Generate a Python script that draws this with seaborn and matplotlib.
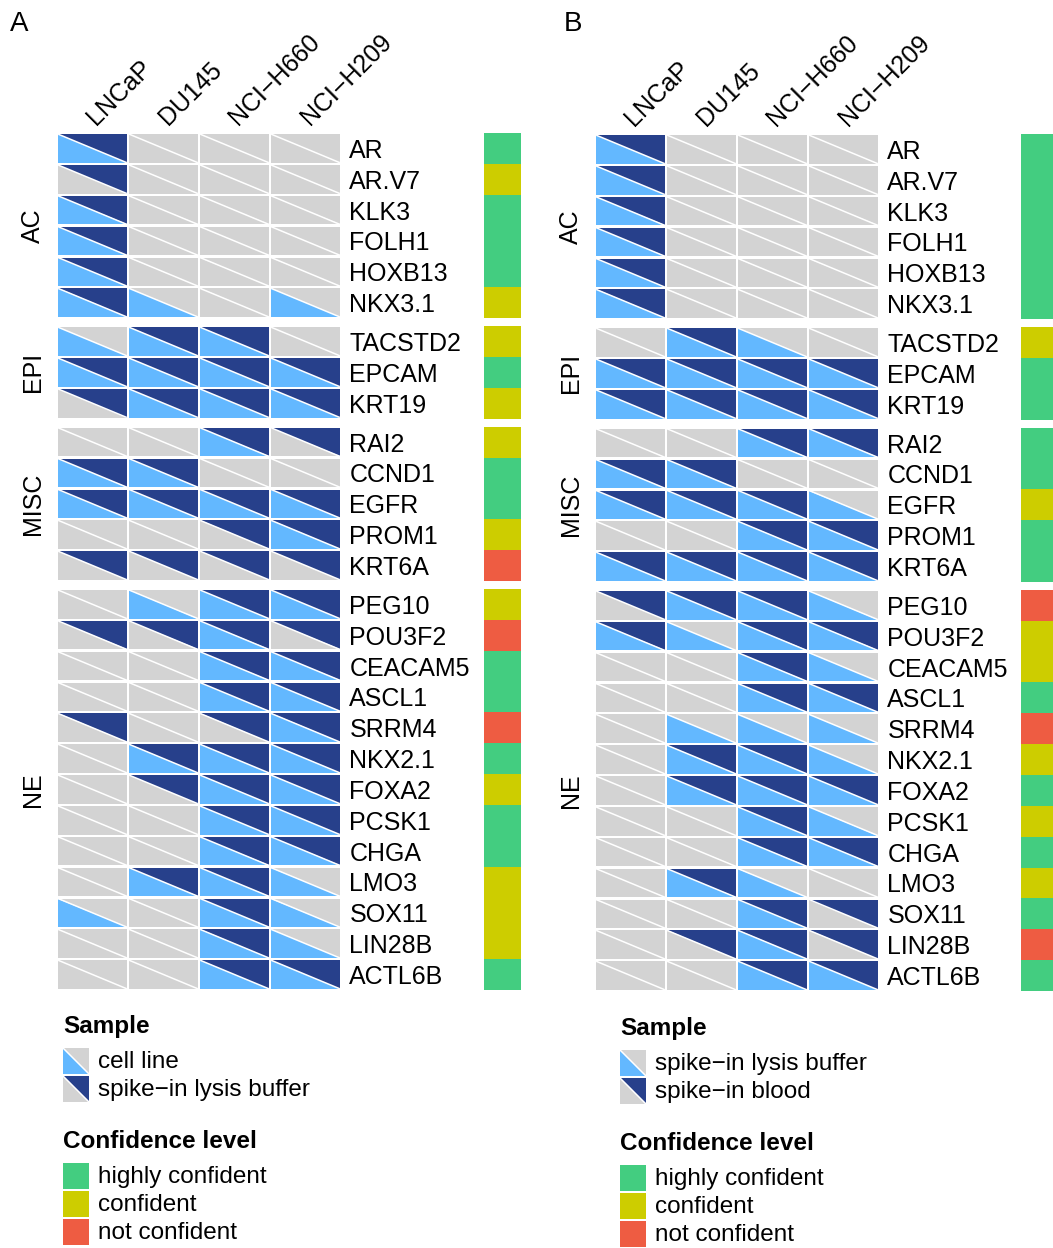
import numpy as np
import matplotlib
matplotlib.use("Agg")
import matplotlib.pyplot as plt
from matplotlib.colors import ListedColormap
from matplotlib.transforms import ScaledTranslation
import seaborn as sns

sns.set_theme(style="white")
plt.rcParams["font.family"] = ["Liberation Sans", "DejaVu Sans"]
for key in ["text.color", "axes.labelcolor", "xtick.color", "ytick.color"]:
    plt.rcParams[key] = "black"

# ---------------- data ----------------
cell_lines = ["LNCaP", "DU145", "NCI\u2212H660", "NCI\u2212H209"]
groups = ["AC", "EPI", "MISC", "NE"]
group_genes = [
    ["AR", "AR.V7", "KLK3", "FOLH1", "HOXB13", "NKX3.1"],
    ["TACSTD2", "EPCAM", "KRT19"],
    ["RAI2", "CCND1", "EGFR", "PROM1", "KRT6A"],
    ["PEG10", "POU3F2", "CEACAM5", "ASCL1", "SRRM4", "NKX2.1", "FOXA2",
     "PCSK1", "CHGA", "LMO3", "SOX11", "LIN28B", "ACTL6B"],
]

# panel A: detection in cell line (lower-left) and spike-in lysis buffer (upper-right)
a_cell_line = [
    [1, 0, 0, 0], [0, 0, 0, 0], [1, 0, 0, 0], [1, 0, 0, 0], [1, 0, 0, 0], [1, 1, 0, 1],
    [1, 1, 1, 0], [1, 1, 1, 1], [0, 1, 1, 1],
    [0, 0, 1, 0], [1, 1, 0, 0], [1, 1, 1, 1], [0, 0, 0, 1], [0, 0, 0, 0],
    [0, 1, 1, 1], [0, 0, 1, 0], [0, 0, 1, 1], [0, 0, 1, 1], [0, 0, 0, 1], [0, 1, 1, 1],
    [0, 0, 1, 1], [0, 0, 1, 1], [0, 0, 1, 1], [0, 1, 1, 1], [1, 0, 1, 1], [0, 0, 1, 1],
    [0, 0, 1, 1],
]
a_lysis = [
    [1, 0, 0, 0], [1, 0, 0, 0], [1, 0, 0, 0], [1, 0, 0, 0], [1, 0, 0, 0], [1, 0, 0, 0],
    [0, 1, 1, 0], [1, 1, 1, 1], [1, 1, 1, 1],
    [0, 0, 1, 1], [1, 1, 0, 0], [1, 1, 1, 1], [0, 0, 1, 1], [1, 1, 1, 1],
    [0, 0, 1, 1], [1, 1, 1, 1], [0, 0, 1, 1], [0, 0, 1, 1], [1, 0, 1, 1], [0, 1, 1, 1],
    [0, 1, 1, 1], [0, 0, 1, 1], [0, 0, 1, 1], [0, 1, 1, 0], [0, 0, 1, 0], [0, 0, 1, 0],
    [0, 0, 1, 1],
]
# panel B: spike-in lysis buffer (lower-left) and spike-in blood (upper-right)
b_lysis = [
    [1, 0, 0, 0], [1, 0, 0, 0], [1, 0, 0, 0], [1, 0, 0, 0], [1, 0, 0, 0], [1, 0, 0, 0],
    [0, 1, 1, 0], [1, 1, 1, 1], [1, 1, 1, 1],
    [0, 0, 1, 1], [1, 1, 0, 0], [1, 1, 1, 1], [0, 0, 1, 1], [1, 1, 1, 1],
    [0, 1, 1, 1], [1, 1, 1, 1], [0, 0, 1, 1], [0, 0, 1, 1], [0, 1, 1, 1], [0, 1, 1, 1],
    [0, 1, 1, 1], [0, 0, 1, 1], [0, 0, 1, 1], [0, 1, 1, 0], [0, 0, 1, 0], [0, 0, 1, 0],
    [0, 0, 1, 1],
]
b_blood = [
    [1, 0, 0, 0], [1, 0, 0, 0], [1, 0, 0, 0], [1, 0, 0, 0], [1, 0, 0, 0], [1, 0, 0, 0],
    [0, 1, 0, 0], [1, 1, 1, 1], [1, 1, 1, 1],
    [0, 0, 1, 1], [1, 1, 0, 0], [1, 1, 1, 0], [0, 0, 1, 1], [1, 1, 1, 1],
    [1, 1, 1, 0], [1, 0, 1, 1], [0, 0, 1, 0], [0, 0, 1, 1], [0, 0, 0, 0], [0, 1, 1, 0],
    [0, 1, 1, 1], [0, 0, 1, 0], [0, 0, 1, 1], [0, 1, 0, 0], [0, 0, 1, 1], [0, 1, 1, 1],
    [0, 0, 1, 1],
]

confidence_levels = ["highly confident", "confident", "not confident"]
# 0 = highly confident, 1 = confident, 2 = not confident
a_confidence = [0, 1, 0, 0, 0, 1,
                1, 0, 1,
                1, 0, 0, 1, 2,
                1, 2, 0, 0, 2, 0, 1, 0, 0, 1, 1, 1, 0]
b_confidence = [0, 0, 0, 0, 0, 0,
                1, 0, 0,
                0, 0, 1, 0, 0,
                2, 1, 1, 0, 2, 1, 0, 1, 0, 1, 0, 2, 0]

a_samples = ["cell line", "spike\u2212in lysis buffer"]
b_samples = ["spike\u2212in lysis buffer", "spike\u2212in blood"]

# ---------------- style ----------------
GREY = "#D3D3D3"
LIGHT = "#63B8FF"
DARK = "#27408B"
CONF_COLORS = ["#43CD80", "#CDCD00", "#EE5C42"]
FS = 18
FS_LEG = 17.5

W, H = 1053, 1248
fig = plt.figure(figsize=(W / 100, H / 100), dpi=100)


def px_axes(left, top, width, height):
    return fig.add_axes([left / W, 1 - (top + height) / H, width / W, height / H])


ROW_H = 30.85
GAP = 8.0
CELL_W = 71.0
MX = 1.15 / CELL_W
MY = 1.15 / ROW_H


def draw_panel(letter, letter_x, left, top, bar_left, lower, upper, confidence):
    fig.text(letter_x / W, 1 - 11 / H, letter, fontsize=20, va="top", ha="left")
    lower = np.array(lower)
    upper = np.array(upper)
    conf = np.array(confidence)
    y = top
    start = 0
    for gi, (gname, genes) in enumerate(zip(groups, group_genes)):
        n = len(genes)
        h = n * ROW_H
        ax = px_axes(left, y, 4 * CELL_W, h)
        lo = lower[start:start + n]
        up = upper[start:start + n]
        for i in range(n):
            for j in range(4):
                x0, x1 = j + MX, j + 1 - MX
                y0, y1 = i + MY, i + 1 - MY
                ax.fill([x0, x0, x1], [y0, y1, y1],
                        color=LIGHT if lo[i, j] else GREY, lw=0)
                ax.fill([x0, x1, x1], [y0, y0, y1],
                        color=DARK if up[i, j] else GREY, lw=0)
                ax.plot([x0, x1], [y0, y1], color="white", lw=1.1,
                        solid_capstyle="butt")
        ax.set_xlim(0, 4)
        ax.set_ylim(n, 0)
        for s in ax.spines.values():
            s.set_visible(False)
        ax.yaxis.tick_right()
        ax.set_yticks(np.arange(n) + 0.5)
        ax.set_yticklabels(genes, fontsize=FS)
        ax.tick_params(axis="y", length=0, pad=6)
        ax.set_ylabel(gname, fontsize=FS, labelpad=9)
        ax.yaxis.set_label_position("left")
        if gi == 0:
            ax.xaxis.tick_top()
            ax.set_xticks(np.arange(4) + 0.5)
            ax.set_xticklabels(cell_lines, fontsize=FS, rotation=45, ha="left",
                               va="baseline", rotation_mode="anchor")
            ax.tick_params(axis="x", length=0, pad=5)
            for lab in ax.get_xticklabels():
                lab.set_transform(lab.get_transform() +
                                  ScaledTranslation(0.04, 0, fig.dpi_scale_trans))
        else:
            ax.set_xticks([])

        # confidence bar for this group
        bax = px_axes(bar_left, y, 37, h)
        sns.heatmap(conf[start:start + n].reshape(-1, 1), ax=bax,
                    cmap=ListedColormap(CONF_COLORS), vmin=-0.5, vmax=2.5,
                    cbar=False, xticklabels=False, yticklabels=False)
        y += h + GAP
        start += n


def draw_legend(x, y, samples):
    lax = px_axes(0, 0, W, H)
    lax.set_xlim(0, W)
    lax.set_ylim(H, 0)
    lax.axis("off")
    lax.patch.set_alpha(0)
    lax.text(x, y, "Sample", fontsize=FS_LEG, fontweight="bold", va="center", ha="left")
    k = 26
    ky = y + 22
    for idx, lab in enumerate(samples):
        t = ky + idx * (k + 2)
        lo_col = LIGHT if idx == 0 else GREY
        up_col = DARK if idx == 1 else GREY
        lax.fill([x, x, x + k], [t, t + k, t + k], color=lo_col, lw=0)
        lax.fill([x, x + k, x + k], [t, t, t + k], color=up_col, lw=0)
        lax.plot([x, x + k], [t, t + k], color="white", lw=1.1)
        lax.text(x + 35, t + k / 2 + 1, lab, fontsize=FS_LEG, va="center", ha="left")
    cy = y + 115
    lax.text(x, cy, "Confidence level", fontsize=FS_LEG, fontweight="bold",
             va="center", ha="left")
    for idx, lab in enumerate(confidence_levels):
        t = cy + 22 + idx * (k + 2)
        lax.fill([x, x + k, x + k, x], [t, t, t + k, t + k],
                 color=CONF_COLORS[idx], lw=0)
        lax.text(x + 35, t + k / 2 + 1, lab, fontsize=FS_LEG, va="center", ha="left")


draw_panel("A", 10, 57, 133, 484, a_cell_line, a_lysis, a_confidence)
draw_panel("B", 564, 595, 134, 1021, b_lysis, b_blood, b_confidence)
draw_legend(63, 1026, a_samples)
draw_legend(620, 1028, b_samples)

fig.savefig("out.png", dpi=100)
